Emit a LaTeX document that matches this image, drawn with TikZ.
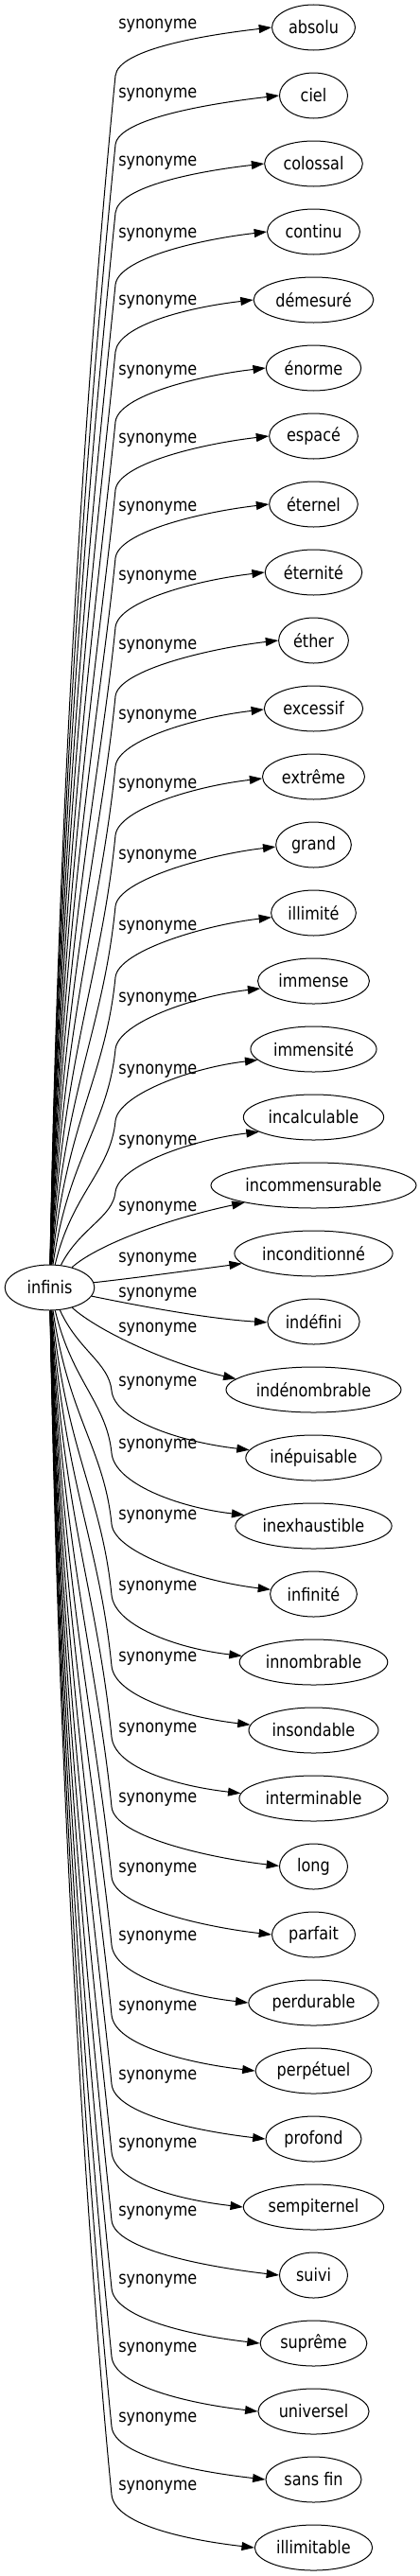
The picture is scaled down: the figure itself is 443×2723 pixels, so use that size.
\documentclass[tikz,border=0pt]{standalone}
\usepackage{fontspec}
\setmainfont{DejaVu Sans}[FakeStretch=0.86]
\usetikzlibrary{shapes.geometric,arrows.meta,calc}
\tikzset{
  mot/.style={draw, ellipse, line width=0.75pt, minimum width=54pt, minimum height=36pt, inner xsep=3.5pt, inner ysep=1pt},
  syn/.style={anchor=west, inner sep=0pt},
  rel/.style={line width=0.75pt, -{Triangle[length=10pt,width=6.7pt]}}
}
\newcommand\relup[3]{%
  \pgfmathsetmacro\bendy{#2+53}%
  \pgfmathsetmacro\dist{1337-\bendy}%
  \pgfmathsetmacro\hgt{min(0.35*\dist,150)}%
  \draw[rel] (infinis) .. controls ({62+3000/(\dist+60)},{1337-0.5*\dist}) and ({122-0.1*\hgt},{\bendy+\hgt}) .. (122,\bendy)
    .. controls (125,{\bendy-28}) and ($(#1.#3)+(-70,8)$) .. (#1.#3);}
\newcommand\reldown[3]{%
  \pgfmathsetmacro\bendy{#2+8}%
  \pgfmathsetmacro\dist{\bendy-1385}%
  \pgfmathsetmacro\hgt{min(0.35*\dist,150)}%
  \draw[rel] (infinis) .. controls ({62+3000/(\dist+60)},{1385+0.5*\dist}) and ({118-0.1*\hgt},{\bendy-\hgt}) .. (118,\bendy)
    .. controls (121,{\bendy+32}) and ($(#1.#3)+(-70,-8)$) .. (#1.#3);}

\begin{document}
\begin{tikzpicture}[x=0.75pt, y=-0.75pt, font=\fontsize{14pt}{17pt}\selectfont]
        \useasboundingbox (0,0) rectangle (443,2723);

        \node[mot, minimum width=71pt] (infinis) at (52.5,1361) {infinis};

        \node[mot] (absolu) at (331.5,29) {absolu};
        \node[mot] (ciel) at (331.5,101) {ciel};
        \node[mot] (colossal) at (331.5,173) {colossal};
        \node[mot] (continu) at (331.5,245) {continu};
        \node[mot] (demesure) at (331.5,317) {démesuré};
        \node[mot] (enorme) at (331.5,389) {énorme};
        \node[mot] (espace) at (331.5,461) {espacé};
        \node[mot] (eternel) at (331.5,533) {éternel};
        \node[mot] (eternite) at (331.5,605) {éternité};
        \node[mot] (ether) at (331.5,677) {éther};
        \node[mot] (excessif) at (331.5,749) {excessif};
        \node[mot] (extreme) at (331.5,821) {extrême};
        \node[mot] (grand) at (331.5,893) {grand};
        \node[mot] (illimite) at (331.5,965) {illimité};
        \node[mot] (immense) at (331.5,1037) {immense};
        \node[mot] (immensite) at (331.5,1109) {immensité};
        \node[mot] (incalculable) at (331.5,1181) {incalculable};
        \node[mot] (incommensurable) at (331.5,1253) {incommensurable};
        \node[mot] (inconditionne) at (331.5,1325) {inconditionné};
        \node[mot] (indefini) at (331.5,1397) {indéfini};
        \node[mot] (indenombrable) at (331.5,1469) {indénombrable};
        \node[mot] (inepuisable) at (331.5,1541) {inépuisable};
        \node[mot] (inexhaustible) at (331.5,1613) {inexhaustible};
        \node[mot] (infinite) at (331.5,1685) {infinité};
        \node[mot] (innombrable) at (331.5,1757) {innombrable};
        \node[mot] (insondable) at (331.5,1829) {insondable};
        \node[mot] (interminable) at (331.5,1901) {interminable};
        \node[mot] (long) at (331.5,1973) {long};
        \node[mot] (parfait) at (331.5,2045) {parfait};
        \node[mot] (perdurable) at (331.5,2117) {perdurable};
        \node[mot] (perpetuel) at (331.5,2189) {perpétuel};
        \node[mot] (profond) at (331.5,2261) {profond};
        \node[mot] (sempiternel) at (331.5,2333) {sempiternel};
        \node[mot] (suivi) at (331.5,2405) {suivi};
        \node[mot] (supreme) at (331.5,2477) {suprême};
        \node[mot] (universel) at (331.5,2549) {universel};
        \node[mot] (sansfin) at (331.5,2621) {sans fin};
        \node[mot] (illimitable) at (331.5,2693) {illimitable};

        \node[syn] (s1) at (125,27) {synonyme};
        \node[syn] (s2) at (125,100) {synonyme};
        \node[syn] (s3) at (125,172) {synonyme};
        \node[syn] (s4) at (125,248) {synonyme};
        \node[syn] (s5) at (125,319) {synonyme};
        \node[syn] (s6) at (125,393) {synonyme};
        \node[syn] (s7) at (125,465) {synonyme};
        \node[syn] (s8) at (125,537) {synonyme};
        \node[syn] (s9) at (125,610) {synonyme};
        \node[syn] (s10) at (125,683) {synonyme};
        \node[syn] (s11) at (125,757) {synonyme};
        \node[syn] (s12) at (125,830) {synonyme};
        \node[syn] (s13) at (125,905) {synonyme};
        \node[syn] (s14) at (125,980) {synonyme};
        \node[syn] (s15) at (125,1056) {synonyme};
        \node[syn] (s16) at (125,1132) {synonyme};
        \node[syn] (s17) at (125,1207) {synonyme};
        \node[syn] (s18) at (125,1277) {synonyme};
        \node[syn] (s19) at (125,1331) {synonyme};
        \node[syn] (s20) at (125,1368) {synonyme};
        \node[syn] (s21) at (125,1405) {synonyme};
        \node[syn] (s22) at (125,1462) {synonyme};
        \node[syn] (s23) at (125,1528) {synonyme};
        \node[syn] (s24) at (125,1603) {synonyme};
        \node[syn] (s25) at (125,1678) {synonyme};
        \node[syn] (s26) at (125,1753) {synonyme};
        \node[syn] (s27) at (125,1828) {synonyme};
        \node[syn] (s28) at (125,1902) {synonyme};
        \node[syn] (s29) at (125,1976) {synonyme};
        \node[syn] (s30) at (125,2048) {synonyme};
        \node[syn] (s31) at (125,2122) {synonyme};
        \node[syn] (s32) at (125,2195) {synonyme};
        \node[syn] (s33) at (125,2267) {synonyme};
        \node[syn] (s34) at (125,2339) {synonyme};
        \node[syn] (s35) at (125,2411) {synonyme};
        \node[syn] (s36) at (125,2483) {synonyme};
        \node[syn] (s37) at (125,2557) {synonyme};
        \node[syn] (s38) at (125,2629) {synonyme};

        \relup{absolu}{27}{180}
        \relup{ciel}{100}{180}
        \relup{colossal}{172}{180}
        \relup{continu}{248}{180}
        \relup{demesure}{319}{180}
        \relup{enorme}{393}{180}
        \relup{espace}{465}{180}
        \relup{eternel}{537}{180}
        \relup{eternite}{610}{180}
        \relup{ether}{683}{180}
        \relup{excessif}{757}{181}
        \relup{extreme}{830}{182}
        \relup{grand}{905}{183}
        \relup{illimite}{980}{186}
        \relup{immense}{1056}{188}
        \relup{immensite}{1132}{191}
        \relup{incalculable}{1207}{195}
        \draw[rel] (infinis) .. controls (100,1318) and (170,1290) .. (incommensurable.194);
        \draw[rel] (infinis) .. controls (150,1350) and (200,1343) .. (inconditionne.188);

        \draw[rel] (infinis) .. controls (150,1381) and (220,1394) .. (indefini.181);
        \draw[rel] (infinis) .. controls (105,1408) and (180,1442) .. (indenombrable.172);
        \reldown{inepuisable}{1462}{173}
        \reldown{inexhaustible}{1528}{171}
        \reldown{infinite}{1603}{174}
        \reldown{innombrable}{1678}{175}
        \reldown{insondable}{1753}{175}
        \reldown{interminable}{1828}{176}
        \reldown{long}{1902}{179}
        \reldown{parfait}{1976}{180}
        \reldown{perdurable}{2048}{180}
        \reldown{perpetuel}{2122}{180}
        \reldown{profond}{2195}{180}
        \reldown{sempiternel}{2267}{180}
        \reldown{suivi}{2339}{180}
        \reldown{supreme}{2411}{180}
        \reldown{universel}{2483}{180}
        \reldown{sansfin}{2557}{180}
        \reldown{illimitable}{2629}{180}
\end{tikzpicture}
\end{document}
